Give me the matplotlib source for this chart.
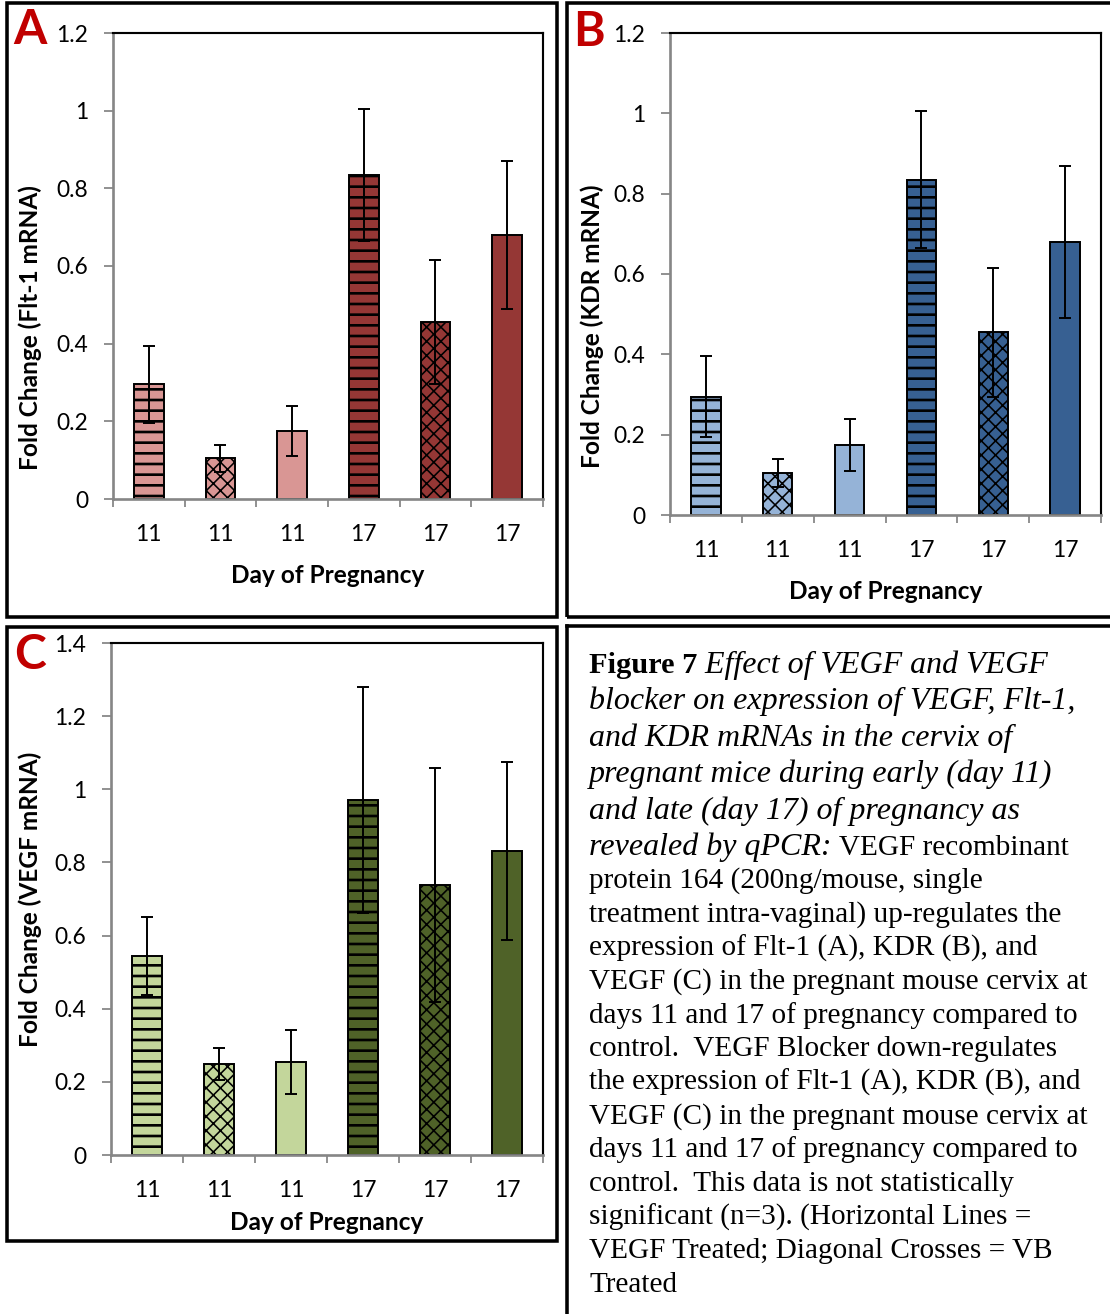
import numpy as np
import matplotlib
matplotlib.use('Agg')
import matplotlib.pyplot as plt
from matplotlib.patches import Rectangle
from matplotlib.lines import Line2D

W, H = 1110, 1314
DPI = 256  # hatch tile = 1 inch, so this sets stripe spacing

# data
days = ['11', '11', '11', '17', '17', '17']
flt1_mean = [0.295, 0.105, 0.175, 0.835, 0.455, 0.68]
flt1_err = [0.10, 0.035, 0.065, 0.17, 0.16, 0.19]
kdr_mean = [0.295, 0.105, 0.175, 0.835, 0.455, 0.68]
kdr_err = [0.10, 0.035, 0.065, 0.17, 0.16, 0.19]
vegf_mean = [0.545, 0.249, 0.254, 0.971, 0.738, 0.831]
vegf_err = [0.107, 0.044, 0.087, 0.31, 0.32, 0.244]
hatches = ['----', 'xxxxxx', '', '----', 'xxxxxx', '']

ticks_12 = [0, 0.2, 0.4, 0.6, 0.8, 1.0, 1.2]
labels_12 = ['0', '0.2', '0.4', '0.6', '0.8', '1', '1.2']
ticks_14 = [0, 0.2, 0.4, 0.6, 0.8, 1.0, 1.2, 1.4]
labels_14 = ['0', '0.2', '0.4', '0.6', '0.8', '1', '1.2', '1.4']

caption = [
    [('Figure 7', 'bold'), (' Effect of VEGF and VEGF', 'italic')],
    [('blocker on expression of VEGF, Flt-1,', 'italic')],
    [('and KDR mRNAs in the cervix of', 'italic')],
    [('pregnant mice during early (day 11)', 'italic')],
    [('and late (day 17) of pregnancy as', 'italic')],
    [('revealed by qPCR:', 'italic'), (' VEGF recombinant', 'normal')],
    [('protein 164 (200ng/mouse, single', 'normal')],
    [('treatment intra-vaginal) up-regulates the', 'normal')],
    [('expression of Flt-1 (A), KDR (B), and', 'normal')],
    [('VEGF (C) in the pregnant mouse cervix at', 'normal')],
    [('days 11 and 17 of pregnancy compared to', 'normal')],
    [('control.  VEGF Blocker down-regulates', 'normal')],
    [('the expression of Flt-1 (A), KDR (B), and', 'normal')],
    [('VEGF (C) in the pregnant mouse cervix at', 'normal')],
    [('days 11 and 17 of pregnancy compared to', 'normal')],
    [('control.  This data is not statistically', 'normal')],
    [('significant (n=3). (Horizontal Lines =', 'normal')],
    [('VEGF Treated; Diagonal Crosses = VB', 'normal')],
    [('Treated', 'normal')],
]

SANS = 'Lato'
SERIF = 'Liberation Serif'
GRAY = '#868686'
plt.rcParams['hatch.linewidth'] = 0.6

fig = plt.figure(figsize=(W / DPI, H / DPI), dpi=DPI)


def px_axes(l, t, r, b):
    return fig.add_axes([l / W, 1 - b / H, (r - l) / W, (b - t) / H])


def frame(l, t, r, b):
    fig.add_artist(Rectangle((l / W, 1 - b / H), (r - l) / W, (b - t) / H,
                             transform=fig.transFigure, fill=False,
                             edgecolor='black', linewidth=1.0))


def panel(box, mean, err, light, dark, ymax, yt, ytl, ylabel, ylab_y, letter):
    l, t, r, b, ylab_x, xlab_d = box
    ax = px_axes(l, t, r, b)
    x = np.arange(len(days))
    colors = [light] * 3 + [dark] * 3
    bars = ax.bar(x, mean, width=0.41, color=colors, edgecolor='black',
                  linewidth=0.55, zorder=2)
    for p, h in zip(bars, hatches):
        if h:
            p.set_hatch(h)
            if hasattr(p, 'set_hatch_linewidth'):
                p.set_hatch_linewidth(0.75 if '-' in h else 0.45)
    ax.errorbar(x, mean, yerr=err, fmt='none', ecolor='black',
                elinewidth=0.55, capsize=1.7, capthick=0.55, zorder=3)
    ax.set_xlim(-0.5, 5.5)
    ax.set_ylim(0, ymax)
    ax.set_yticks(yt)
    ax.set_yticklabels(ytl)
    ax.set_xticks(x)
    ax.set_xticklabels(days)
    ax.set_xticks(np.arange(-0.5, 6, 1), minor=True)
    ax.tick_params(axis='y', direction='out', length=2.5, width=0.5,
                   color=GRAY, labelsize=6.4, pad=4.5)
    ax.tick_params(axis='x', which='major', length=0, labelsize=6.4, pad=7.0)
    ax.tick_params(axis='x', which='minor', direction='out', length=2.3,
                   width=0.5, color=GRAY)
    for lab in ax.get_xticklabels() + ax.get_yticklabels():
        lab.set_fontfamily(SANS)
    for s in ['top', 'right']:
        ax.spines[s].set_color('black')
        ax.spines[s].set_linewidth(0.6)
    for s in ['left', 'bottom']:
        ax.spines[s].set_color(GRAY)
        ax.spines[s].set_linewidth(0.75)
    ax.set_xlabel('Day of Pregnancy', fontfamily=SANS, fontweight='bold',
                  fontsize=6.85, va='center')
    ax.set_ylabel(ylabel, fontfamily=SANS, fontweight='bold', fontsize=6.85,
                  va='center', ha='center')
    ax.yaxis.set_label_coords((ylab_x - l) / (r - l), ylab_y)
    ax.xaxis.set_label_coords(0.5, -xlab_d / (b - t))
    fig.text(letter[1] / W, 1 - letter[2] / H, letter[0], color='#C00000',
             fontfamily=SANS, fontweight='bold', fontsize=13.5,
             ha='center', va='center')
    return ax


frame(7, 3, 557, 617)
frame(567, 3, 1114, 617)
frame(7, 627, 557, 1241)
fig.add_artist(Line2D([567 / W, 567 / W], [1 - 626 / H, -0.01],
                      transform=fig.transFigure, color='black', linewidth=1.0))
fig.add_artist(Line2D([567 / W, 1.01], [1 - 626 / H, 1 - 626 / H],
                      transform=fig.transFigure, color='black', linewidth=1.0))

# box: l, t, r, b, ylabel x px, xlabel distance px
panel((113, 33, 543, 499, 30, 76), flt1_mean, flt1_err, '#D99694', '#953735',
      1.2, ticks_12, labels_12, 'Fold Change (Flt-1 mRNA)', 0.367, ('A', 30, 30))
panel((670, 33, 1101, 515, 592, 76), kdr_mean, kdr_err, '#95B3D7', '#376092',
      1.2, ticks_12, labels_12, 'Fold Change (KDR mRNA)', 0.392, ('B', 589, 32))
panel((111, 643, 543, 1155, 30, 68), vegf_mean, vegf_err, '#C3D69B', '#4F6228',
      1.4, ticks_14, labels_14, 'Fold Change (VEGF mRNA)', 0.5, ('C', 30, 655))

# caption, segment by segment
renderer = fig.canvas.get_renderer()
baselines = [673 + 36.4 * i for i in range(6)] + [888 + 33.67 * i for i in range(13)]
styles = {'bold': dict(fontweight='bold', fontsize=8.55),
          'italic': dict(fontstyle='italic', fontsize=9.0),
          'normal': dict(fontsize=8.23)}
for line, yb in zip(caption, baselines):
    xp = 589
    for txt, sty in line:
        t = fig.text(xp / W, 1 - yb / H, txt, fontfamily=SERIF, va='baseline',
                     ha='left', **styles[sty])
        xp = t.get_window_extent(renderer).x1

fig.savefig('out.png', dpi=DPI, facecolor='white')
